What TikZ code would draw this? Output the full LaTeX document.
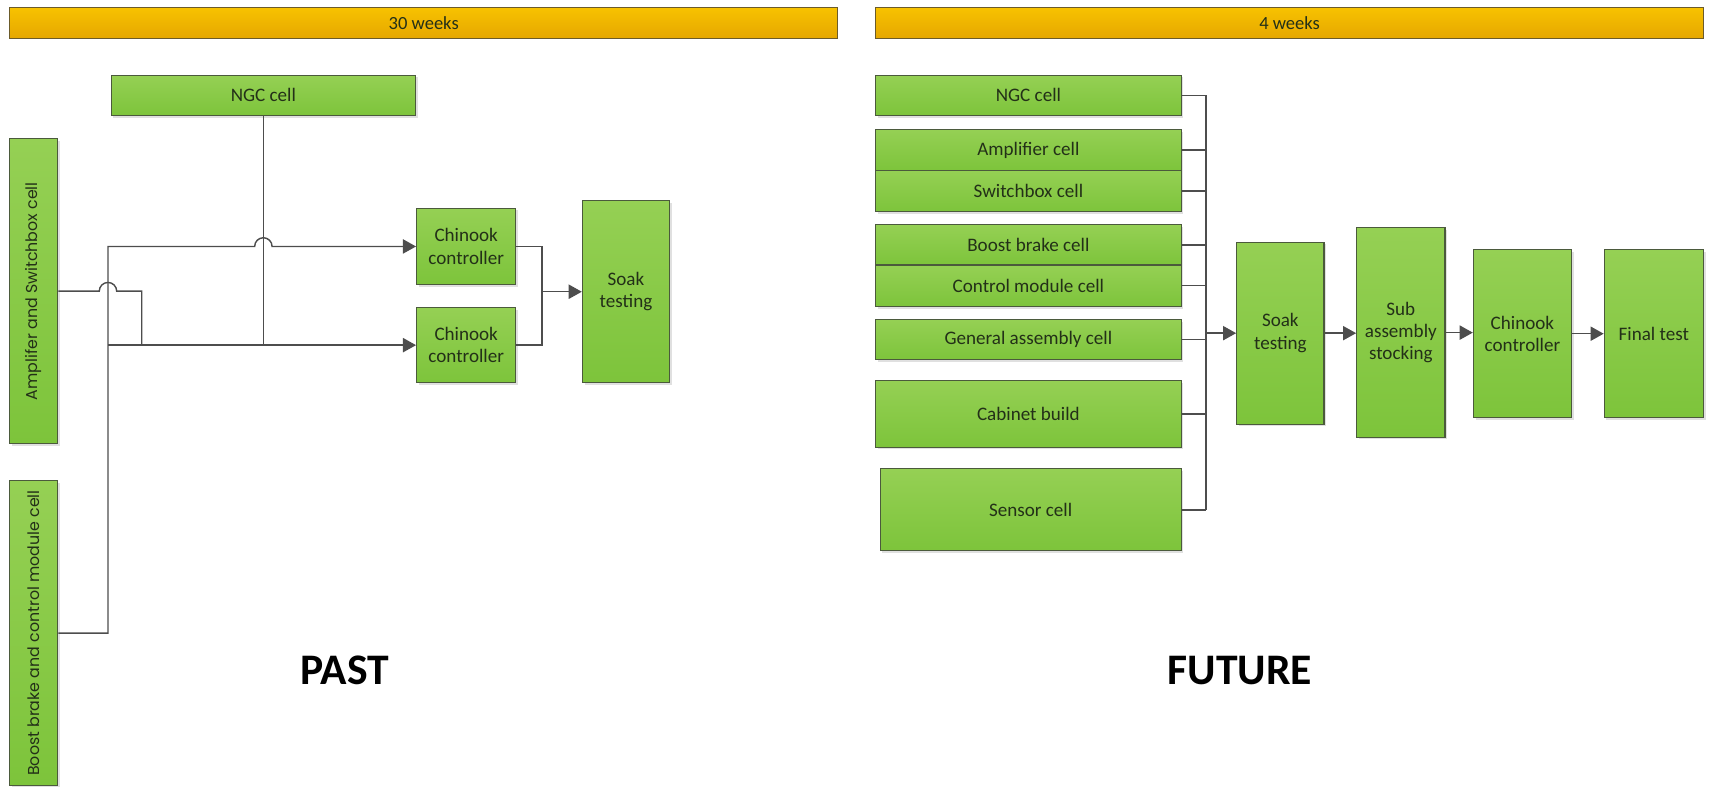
\documentclass[tikz,border=0pt]{standalone}
\usepackage{fontspec}
\setmainfont{Carlito}
\newfontfamily\gothic{Poppins}
\usetikzlibrary{arrows.meta,shadows}
\definecolor{gtop}{HTML}{95D054}
\definecolor{gbot}{HTML}{7DC43B}
\definecolor{gline}{HTML}{4B5A3C}
\definecolor{otop}{HTML}{F7C200}
\definecolor{obot}{HTML}{E6A700}
\definecolor{oline}{HTML}{6B5B2A}
\definecolor{wirec}{HTML}{4D4D4D}
\definecolor{txt}{HTML}{233018}
\begin{document}
\begin{tikzpicture}[x=1pt,y=-1pt,
 cell/.style={draw=gline, line width=1pt, top color=gtop, bottom color=gbot, inner sep=2pt, align=center,
   font=\fontsize{17.5}{20.5}\selectfont, text=txt,
   drop shadow={shadow xshift=2pt, shadow yshift=-2pt, opacity=0.12, fill=black}},
 vcell/.style={cell, font=\gothic\fontsize{14.5}{17}\selectfont},
 bar/.style={draw=oline, line width=1pt, top color=otop, bottom color=obot,
   font=\fontsize{17}{20}\selectfont, minimum width=759pt, minimum height=28pt, text=txt},
 wire/.style={draw=wirec, line width=1.3pt},
 arr/.style={wire, -{Triangle[length=12pt,width=13pt]}},
 big/.style={font=\fontsize{40}{44}\selectfont\bfseries}
]
\useasboundingbox (0,0) rectangle (1568,722);

% ---------- PAST ----------
\node[bar] (pbar) at (388.5,21) {30 weeks};
\node[cell,minimum width=279pt,minimum height=37pt] (pngc) at (241.5,87.5) {NGC cell};
\node[vcell,minimum width=44pt,minimum height=280pt] (pamp) at (31,267) {\rotatebox{90}{Amplifer and Switchbox cell}};
\node[vcell,minimum width=44pt,minimum height=279pt] (pboost) at (31,580.5) {\rotatebox{90}{Boost brake and control module cell}};
\node[cell,minimum width=91pt,minimum height=70pt] (pc1) at (427.5,226) {Chinook\\controller};
\node[cell,minimum width=91pt,minimum height=69pt] (pc2) at (427.5,316.5) {Chinook\\controller};
\node[cell,minimum width=80pt,minimum height=167pt] (psoak) at (574,267.5) {Soak\\testing};

\coordinate (pbus) at (99,0);
\coordinate (pamp2) at (130,0);
\coordinate (pm) at (497,0);

\draw[arr] (pboost.east) -| (pc1.west -| pbus) -- ([xshift=-8pt]pc1.west -| pngc.south)
  arc[start angle=180,end angle=0,radius=8pt] -- (pc1.west);
\draw[arr] (pc2.west -| pbus) -- (pc2.west);
\draw[wire] (pngc.south) -- (pngc.south |- pc2.west);
\draw[wire] (pamp.east) -- ([xshift=-8pt]pamp.east -| pbus)
  arc[start angle=180,end angle=0,radius=8pt] -- (pamp.east -| pamp2) -- (pc2.west -| pamp2);
\draw[wire] (pc1.east) -| (pm |- pc2.east) -- (pc2.east);
\draw[arr] (pm |- psoak.west) -- (psoak.west);

\node[big] (past) at (316,615) {PAST};

% ---------- FUTURE ----------
\node[bar] (fbar) at (1182.5,21) {4 weeks};
\node[cell,minimum width=280pt,minimum height=37pt] (fngc) at (943,87.5) {NGC cell};
\node[cell,minimum width=280pt,minimum height=37pt] (famp) at (943,137.5) {Amplifier cell};
\node[cell,minimum width=280pt,minimum height=38pt] (fsw) at (943,175) {Switchbox cell};
\node[cell,minimum width=280pt,minimum height=37pt] (fbb) at (943,224.5) {Boost brake cell};
\node[cell,minimum width=280pt,minimum height=38pt] (fcm) at (943,262) {Control module cell};
\node[cell,minimum width=280pt,minimum height=37pt] (fga) at (943,311.5) {General assembly cell};
\node[cell,minimum width=280pt,minimum height=61pt] (fcab) at (943,379.5) {Cabinet build};
\node[cell,minimum width=276pt,minimum height=75pt] (fsen) at (945,467.5) {Sensor cell};

\node[cell,minimum width=80pt,minimum height=167pt] (fsoak) at (1174,305.5) {Soak\\testing};
\node[cell,minimum width=81pt,minimum height=192pt] (fsub) at (1284.5,305) {Sub\\assembly\\stocking};
\node[cell,minimum width=90pt,minimum height=154pt] (fchin) at (1396,306) {Chinook\\controller};
\node[cell,minimum width=91pt,minimum height=154pt] (ffin) at (1516.5,306) {Final test};

\coordinate (fb) at (1106,0);
\foreach \n in {fngc,famp,fsw,fbb,fcm,fga,fcab,fsen}
  \draw[wire] (\n.east) -- (\n.east -| fb);
\draw[wire] (fngc.east -| fb) -- (fsen.east -| fb);
\draw[arr] (fsoak.west -| fb) -- (fsoak.west);
\draw[arr] (fsoak.east) -- (fsoak.east -| fsub.west);
\draw[arr] (fsub.east) -- (fsub.east -| fchin.west);
\draw[arr] (fchin.east) -- (fchin.east -| ffin.west);

\node[big] (future) at (1137,615) {FUTURE};
\end{tikzpicture}
\end{document}
